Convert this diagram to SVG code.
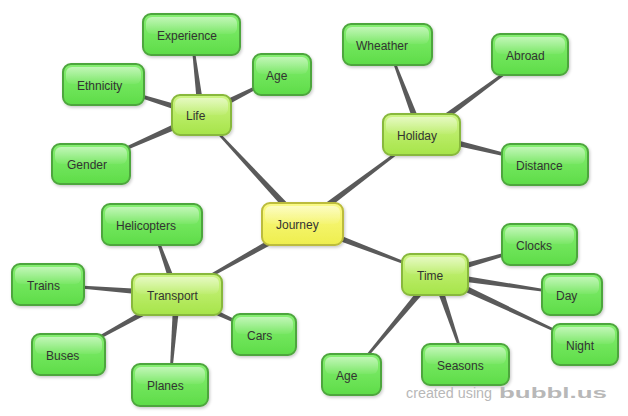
<svg xmlns="http://www.w3.org/2000/svg" width="628" height="416" viewBox="0 0 628 416">
<defs>
<linearGradient id="gGreen" x1="0" y1="0" x2="0" y2="1">
<stop offset="0" stop-color="#86ef72"/><stop offset="1" stop-color="#5edc48"/>
</linearGradient>
<linearGradient id="gLime" x1="0" y1="0" x2="0" y2="1">
<stop offset="0" stop-color="#cdf585"/><stop offset="1" stop-color="#a6e449"/>
</linearGradient>
<linearGradient id="gYellow" x1="0" y1="0" x2="0" y2="1">
<stop offset="0" stop-color="#fafa86"/><stop offset="1" stop-color="#eeee4e"/>
</linearGradient>
<linearGradient id="gGloss" x1="0" y1="0" x2="0" y2="1">
<stop offset="0" stop-color="#ffffff" stop-opacity="0.5"/><stop offset="1" stop-color="#ffffff" stop-opacity="0.05"/>
</linearGradient>
<filter id="shadow" x="-10%" y="-20%" width="130%" height="150%">
<feDropShadow dx="1" dy="1.5" stdDeviation="1.5" flood-color="#000" flood-opacity="0.22"/>
</filter>
</defs>
<style>
.node rect.box{stroke-width:2;filter:url(#shadow)}
.green rect.box{fill:url(#gGreen);stroke:#4ea63e}
.lime rect.box{fill:url(#gLime);stroke:#88b83c}
.yellow rect.box{fill:url(#gYellow);stroke:#bcbc3c}
rect.gloss{fill:url(#gGloss)}
.node text{font-family:"Liberation Sans",Arial,sans-serif;font-size:12px;fill:#333}
#connectors polygon{fill:#5a5a5a}
.wm{font-family:"Liberation Sans",Arial,sans-serif;fill:#b8b8b8}
</style>
<rect width="628" height="416" fill="#ffffff"/>
<g id="connectors">
<polygon transform="translate(302.5 224) rotate(227.18)" points="0,-3.5 148.6,-0.8 148.6,0.8 0,3.5"/>
<polygon transform="translate(302.5 224) rotate(-36.95)" points="0,-3.5 148.9,-0.8 148.9,0.8 0,3.5"/>
<polygon transform="translate(302.5 224) rotate(150.67)" points="0,-3.5 143.9,-0.8 143.9,0.8 0,3.5"/>
<polygon transform="translate(302.5 224) rotate(20.86)" points="0,-3.5 141.8,-0.8 141.8,0.8 0,3.5"/>
<polygon transform="translate(201.5 115) rotate(-97.08)" points="0,-3.5 81.1,-0.8 81.1,0.8 0,3.5"/>
<polygon transform="translate(201.5 115) rotate(197.29)" points="0,-3.5 102.6,-0.8 102.6,0.8 0,3.5"/>
<polygon transform="translate(201.5 115) rotate(-26.71)" points="0,-3.5 90.1,-0.8 90.1,0.8 0,3.5"/>
<polygon transform="translate(201.5 115) rotate(156.09)" points="0,-3.5 120.9,-0.8 120.9,0.8 0,3.5"/>
<polygon transform="translate(421.5 134.5) rotate(249.3)" points="0,-3.5 96.2,-0.8 96.2,0.8 0,3.5"/>
<polygon transform="translate(421.5 134.5) rotate(-36.4)" points="0,-3.5 134.8,-0.8 134.8,0.8 0,3.5"/>
<polygon transform="translate(421.5 134.5) rotate(13.65)" points="0,-3.5 127.1,-0.8 127.1,0.8 0,3.5"/>
<polygon transform="translate(177 294.5) rotate(250.35)" points="0,-3.5 74.3,-0.8 74.3,0.8 0,3.5"/>
<polygon transform="translate(177 294.5) rotate(184.43)" points="0,-3.5 129.4,-0.8 129.4,0.8 0,3.5"/>
<polygon transform="translate(177 294.5) rotate(24.7)" points="0,-3.5 95.8,-0.8 95.8,0.8 0,3.5"/>
<polygon transform="translate(177 294.5) rotate(151.05)" points="0,-3.5 124,-0.8 124,0.8 0,3.5"/>
<polygon transform="translate(177 294.5) rotate(94.42)" points="0,-3.5 90.8,-0.8 90.8,0.8 0,3.5"/>
<polygon transform="translate(435 274.5) rotate(-16.02)" points="0,-3.5 108.7,-0.8 108.7,0.8 0,3.5"/>
<polygon transform="translate(435 274.5) rotate(8.31)" points="0,-3.5 138.5,-0.8 138.5,0.8 0,3.5"/>
<polygon transform="translate(435 274.5) rotate(25.02)" points="0,-3.5 165.5,-0.8 165.5,0.8 0,3.5"/>
<polygon transform="translate(435 274.5) rotate(71.28)" points="0,-3.5 95,-0.8 95,0.8 0,3.5"/>
<polygon transform="translate(435 274.5) rotate(129.86)" points="0,-3.5 130.3,-0.8 130.3,0.8 0,3.5"/>
</g>
<g id="n-journey" class="node yellow"><rect class="box" x="262" y="203" width="81" height="42" rx="8"/><rect class="gloss" x="265" y="206" width="75" height="18" rx="6"/><text x="276" y="229">Journey</text></g>
<g id="n-life" class="node lime"><rect class="box" x="172" y="95" width="59" height="40" rx="8"/><rect class="gloss" x="175" y="98" width="53" height="17" rx="6"/><text x="186" y="120">Life</text></g>
<g id="n-holiday" class="node lime"><rect class="box" x="383" y="114" width="77" height="41" rx="8"/><rect class="gloss" x="386" y="117" width="71" height="17" rx="6"/><text x="397" y="139.5">Holiday</text></g>
<g id="n-transport" class="node lime"><rect class="box" x="132" y="274" width="90" height="41" rx="8"/><rect class="gloss" x="135" y="277" width="84" height="17" rx="6"/><text x="147" y="299.5">Transport</text></g>
<g id="n-time" class="node lime"><rect class="box" x="402" y="254" width="66" height="41" rx="8"/><rect class="gloss" x="405" y="257" width="60" height="17" rx="6"/><text x="417" y="279.5">Time</text></g>
<g id="n-experience" class="node green"><rect class="box" x="143" y="14" width="97" height="41" rx="8"/><rect class="gloss" x="146" y="17" width="91" height="17" rx="6"/><text x="157" y="39.5">Experience</text></g>
<g id="n-ethnicity" class="node green"><rect class="box" x="63" y="64" width="81" height="41" rx="8"/><rect class="gloss" x="66" y="67" width="75" height="17" rx="6"/><text x="77" y="89.5">Ethnicity</text></g>
<g id="n-age1" class="node green"><rect class="box" x="253" y="54" width="58" height="41" rx="8"/><rect class="gloss" x="256" y="57" width="52" height="17" rx="6"/><text x="266" y="79.5">Age</text></g>
<g id="n-gender" class="node green"><rect class="box" x="52" y="144" width="78" height="40" rx="8"/><rect class="gloss" x="55" y="147" width="72" height="17" rx="6"/><text x="67" y="169">Gender</text></g>
<g id="n-wheather" class="node green"><rect class="box" x="343" y="24" width="89" height="41" rx="8"/><rect class="gloss" x="346" y="27" width="83" height="17" rx="6"/><text x="356" y="49.5">Wheather</text></g>
<g id="n-abroad" class="node green"><rect class="box" x="492" y="34" width="76" height="41" rx="8"/><rect class="gloss" x="495" y="37" width="70" height="17" rx="6"/><text x="506" y="59.5">Abroad</text></g>
<g id="n-distance" class="node green"><rect class="box" x="502" y="144" width="86" height="41" rx="8"/><rect class="gloss" x="505" y="147" width="80" height="17" rx="6"/><text x="516" y="169.5">Distance</text></g>
<g id="n-helicopters" class="node green"><rect class="box" x="102" y="204" width="100" height="41" rx="8"/><rect class="gloss" x="105" y="207" width="94" height="17" rx="6"/><text x="116" y="229.5">Helicopters</text></g>
<g id="n-trains" class="node green"><rect class="box" x="12" y="264" width="72" height="41" rx="8"/><rect class="gloss" x="15" y="267" width="66" height="17" rx="6"/><text x="27" y="289.5">Trains</text></g>
<g id="n-cars" class="node green"><rect class="box" x="232" y="314" width="64" height="41" rx="8"/><rect class="gloss" x="235" y="317" width="58" height="17" rx="6"/><text x="247" y="339.5">Cars</text></g>
<g id="n-buses" class="node green"><rect class="box" x="32" y="334" width="73" height="41" rx="8"/><rect class="gloss" x="35" y="337" width="67" height="17" rx="6"/><text x="46" y="359.5">Buses</text></g>
<g id="n-planes" class="node green"><rect class="box" x="132" y="364" width="76" height="42" rx="8"/><rect class="gloss" x="135" y="367" width="70" height="17" rx="6"/><text x="147" y="390">Planes</text></g>
<g id="n-clocks" class="node green"><rect class="box" x="502" y="224" width="75" height="41" rx="8"/><rect class="gloss" x="505" y="227" width="69" height="17" rx="6"/><text x="516" y="249.5">Clocks</text></g>
<g id="n-day" class="node green"><rect class="box" x="542" y="274" width="60" height="41" rx="8"/><rect class="gloss" x="545" y="277" width="54" height="17" rx="6"/><text x="556" y="299.5">Day</text></g>
<g id="n-night" class="node green"><rect class="box" x="552" y="324" width="66" height="41" rx="8"/><rect class="gloss" x="555" y="327" width="60" height="17" rx="6"/><text x="566" y="349.5">Night</text></g>
<g id="n-seasons" class="node green"><rect class="box" x="422" y="344" width="87" height="41" rx="8"/><rect class="gloss" x="425" y="347" width="81" height="17" rx="6"/><text x="437" y="369.5">Seasons</text></g>
<g id="n-age2" class="node green"><rect class="box" x="322" y="354" width="59" height="41" rx="8"/><rect class="gloss" x="325" y="357" width="53" height="17" rx="6"/><text x="336" y="379.5">Age</text></g>
<g id="watermark">
<text class="wm" x="406" y="398" font-size="14" textLength="86" lengthAdjust="spacingAndGlyphs">created using</text>
<text class="wm" x="499" y="398" font-size="15" font-weight="bold" fill="#bdbdbd" textLength="108" lengthAdjust="spacingAndGlyphs">bubbl.us</text>
</g>
</svg>
